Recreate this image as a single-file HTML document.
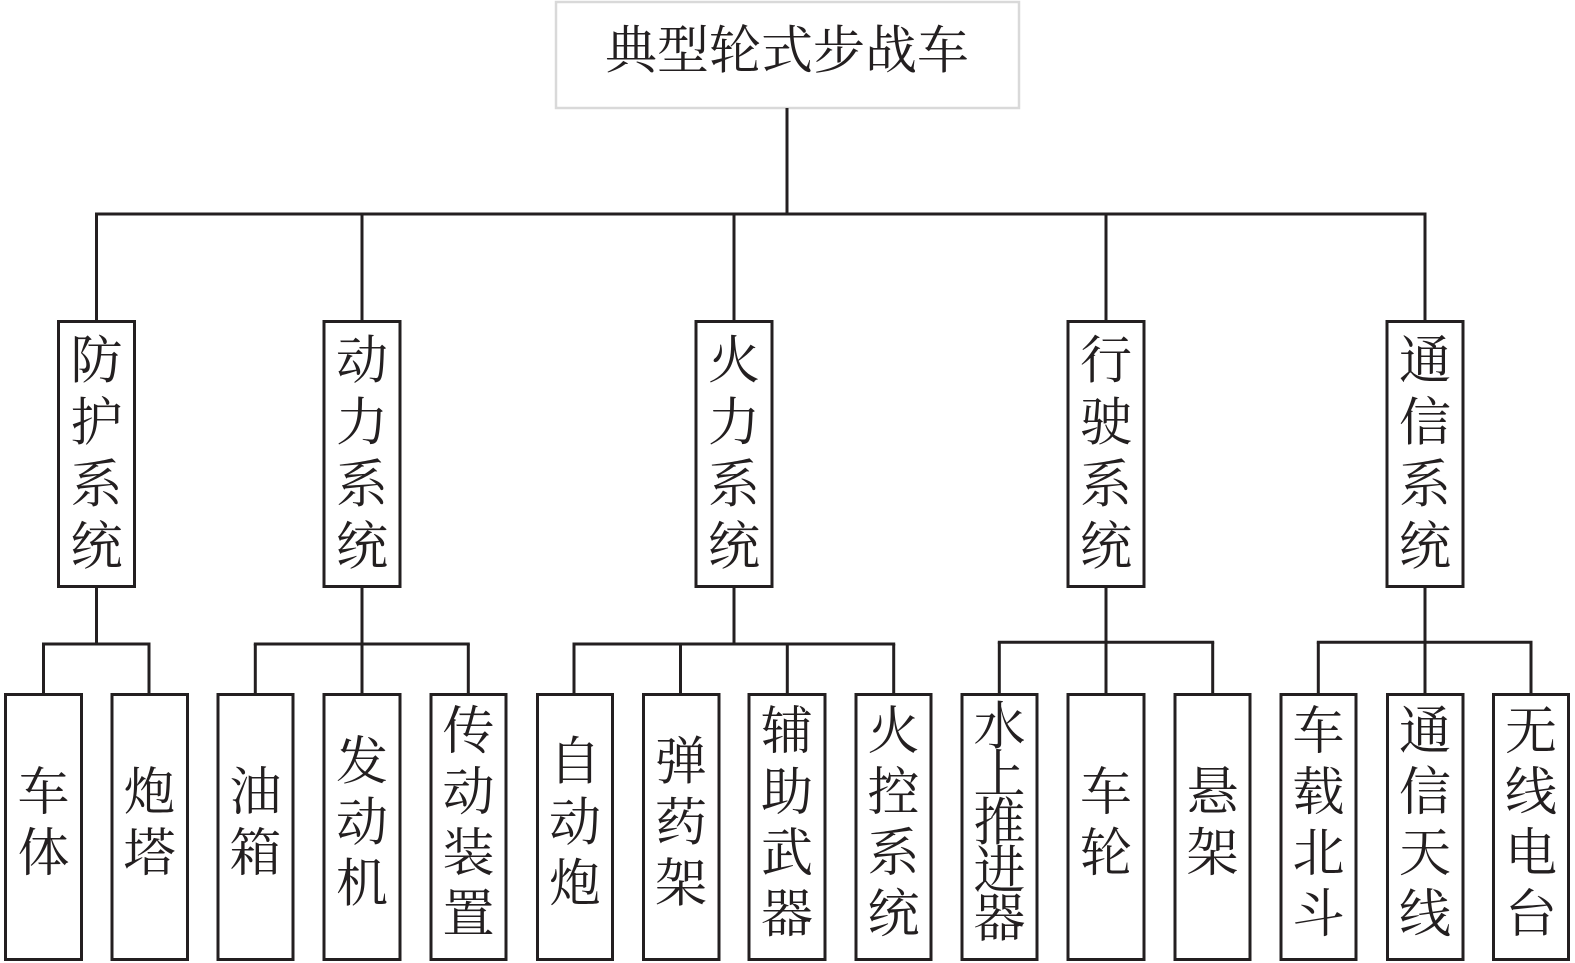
<!DOCTYPE html>
<html>
<head>
<meta charset="utf-8">
<style>
  html, body { margin: 0; padding: 0; background: #ffffff; }
  body { width: 1575px; height: 963px; overflow: hidden; }
  svg { display: block; }
  text { font-family: "Liberation Serif", "Noto Serif CJK SC", serif; fill: #231f20; font-size: 52px; text-anchor: middle; dominant-baseline: central; }
</style>
</head>
<body>
<svg width="1575" height="963" viewBox="0 0 1575 963" xmlns="http://www.w3.org/2000/svg">
  <!-- Root box -->
  <rect x="556" y="2" width="463" height="106" fill="#ffffff" stroke="#d9d9d9" stroke-width="2.5"/>
  <text x="787" y="52">典型轮式步战车</text>

  <g stroke="#231f20" stroke-width="3" fill="none">
    <!-- root connectors -->
    <line x1="787" y1="108" x2="787" y2="214"/>
    <line x1="95" y1="214" x2="1426.5" y2="214"/>
    <line x1="96.5" y1="214" x2="96.5" y2="321"/>
    <line x1="362" y1="214" x2="362" y2="321"/>
    <line x1="734" y1="214" x2="734" y2="321"/>
    <line x1="1106" y1="214" x2="1106" y2="321"/>
    <line x1="1425" y1="214" x2="1425" y2="321"/>

    <!-- mid boxes -->
    <rect x="58.5" y="321.5" width="76" height="265"/>
    <rect x="324" y="321.5" width="76" height="265"/>
    <rect x="696" y="321.5" width="76" height="265"/>
    <rect x="1068" y="321.5" width="76" height="265"/>
    <rect x="1387" y="321.5" width="76" height="265"/>

    <!-- mid to groups -->
    <line x1="96.5" y1="586" x2="96.5" y2="644"/>
    <line x1="42" y1="644" x2="150.5" y2="644"/>
    <line x1="43.5" y1="644" x2="43.5" y2="694"/>
    <line x1="149" y1="644" x2="149" y2="694"/>

    <line x1="362" y1="586" x2="362" y2="694"/>
    <line x1="253.8" y1="644" x2="469.8" y2="644"/>
    <line x1="255.3" y1="644" x2="255.3" y2="694"/>
    <line x1="468.3" y1="644" x2="468.3" y2="694"/>

    <line x1="734" y1="586" x2="734" y2="644"/>
    <line x1="572.5" y1="644" x2="895.2" y2="644"/>
    <line x1="574" y1="644" x2="574" y2="694"/>
    <line x1="680.5" y1="644" x2="680.5" y2="694"/>
    <line x1="787.3" y1="644" x2="787.3" y2="694"/>
    <line x1="893.7" y1="644" x2="893.7" y2="694"/>

    <line x1="1106" y1="586" x2="1106" y2="694"/>
    <line x1="997.8" y1="642.3" x2="1214.2" y2="642.3"/>
    <line x1="999.3" y1="642.3" x2="999.3" y2="694"/>
    <line x1="1212.7" y1="642.3" x2="1212.7" y2="694"/>

    <line x1="1425" y1="586" x2="1425" y2="694"/>
    <line x1="1316.8" y1="642.3" x2="1532.5" y2="642.3"/>
    <line x1="1318.3" y1="642.3" x2="1318.3" y2="694"/>
    <line x1="1531" y1="642.3" x2="1531" y2="694"/>

    <!-- leaf boxes -->
    <rect x="5.5" y="694.5" width="76" height="265"/>
    <rect x="112" y="694.5" width="75.5" height="265"/>
    <rect x="218" y="694.5" width="75" height="265"/>
    <rect x="324" y="694.5" width="76" height="265"/>
    <rect x="431" y="694.5" width="75" height="265"/>
    <rect x="537.5" y="694.5" width="75" height="265"/>
    <rect x="643.5" y="694.5" width="75.5" height="265"/>
    <rect x="749" y="694.5" width="76" height="265"/>
    <rect x="856" y="694.5" width="75" height="265"/>
    <rect x="962" y="694.5" width="75" height="265"/>
    <rect x="1068" y="694.5" width="76" height="265"/>
    <rect x="1175" y="694.5" width="75" height="265"/>
    <rect x="1281" y="694.5" width="75" height="265"/>
    <rect x="1387.5" y="694.5" width="75.5" height="265"/>
    <rect x="1493.5" y="694.5" width="75" height="265"/>
  </g>

  <!-- mid labels -->
  <text x="96.5" y="362">防</text><text x="96.5" y="424">护</text><text x="96.5" y="486">系</text><text x="96.5" y="548">统</text>
  <text x="362" y="362">动</text><text x="362" y="424">力</text><text x="362" y="486">系</text><text x="362" y="548">统</text>
  <text x="734" y="362">火</text><text x="734" y="424">力</text><text x="734" y="486">系</text><text x="734" y="548">统</text>
  <text x="1106" y="362">行</text><text x="1106" y="424">驶</text><text x="1106" y="486">系</text><text x="1106" y="548">统</text>
  <text x="1425" y="362">通</text><text x="1425" y="424">信</text><text x="1425" y="486">系</text><text x="1425" y="548">统</text>

  <!-- leaf labels -->
  <text x="43.5" y="793.5">车</text><text x="43.5" y="854.5">体</text>
  <text x="149.5" y="793.5">炮</text><text x="149.5" y="854.5">塔</text>
  <text x="255.5" y="793.5">油</text><text x="255.5" y="854.5">箱</text>
  <text x="362" y="763">发</text><text x="362" y="824">动</text><text x="362" y="885">机</text>
  <text x="468.5" y="732.5">传</text><text x="468.5" y="793.5">动</text><text x="468.5" y="854.5">装</text><text x="468.5" y="915.5">置</text>
  <text x="575" y="763">自</text><text x="575" y="824">动</text><text x="575" y="885">炮</text>
  <text x="681" y="763">弹</text><text x="681" y="824">药</text><text x="681" y="885">架</text>
  <text x="787" y="732.5">辅</text><text x="787" y="793.5">助</text><text x="787" y="854.5">武</text><text x="787" y="915.5">器</text>
  <text x="893.5" y="732.5">火</text><text x="893.5" y="793.5">控</text><text x="893.5" y="854.5">系</text><text x="893.5" y="915.5">统</text>
  <text x="999.5" y="728">水</text><text x="999.5" y="776">上</text><text x="999.5" y="824">推</text><text x="999.5" y="872">进</text><text x="999.5" y="920">器</text>
  <text x="1106" y="793.5">车</text><text x="1106" y="854.5">轮</text>
  <text x="1212.5" y="793.5">悬</text><text x="1212.5" y="854.5">架</text>
  <text x="1318.5" y="732.5">车</text><text x="1318.5" y="793.5">载</text><text x="1318.5" y="854.5">北</text><text x="1318.5" y="915.5">斗</text>
  <text x="1425" y="732.5">通</text><text x="1425" y="793.5">信</text><text x="1425" y="854.5">天</text><text x="1425" y="915.5">线</text>
  <text x="1531" y="732.5">无</text><text x="1531" y="793.5">线</text><text x="1531" y="854.5">电</text><text x="1531" y="915.5">台</text>
</svg>
</body>
</html>
